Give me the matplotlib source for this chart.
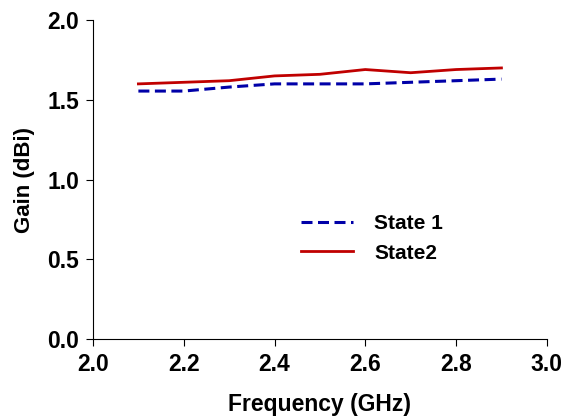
import matplotlib.pyplot as plt
from matplotlib.ticker import FormatStrFormatter

plt.rcParams['font.family'] = ['Liberation Sans', 'DejaVu Sans']
plt.rcParams['font.weight'] = 'bold'

freq = [2.1, 2.2, 2.3, 2.4, 2.5, 2.6, 2.7, 2.8, 2.9]
state1 = [1.555, 1.555, 1.58, 1.60, 1.60, 1.60, 1.61, 1.62, 1.63]
state2 = [1.60, 1.61, 1.62, 1.65, 1.66, 1.69, 1.67, 1.69, 1.70]

fig = plt.figure(figsize=(5.62, 4.19), dpi=100)
ax = fig.add_axes([0.1655, 0.191, 0.8075, 0.761])

ax.plot(freq, state1, color='#0000a8', lw=2.2, ls=(0, (3.6, 1.8)), label='State 1')
ax.plot(freq, state2, color='#c00000', lw=2.0, label='State2')

ax.set_xlim(2.0, 3.0)
ax.set_ylim(0.0, 2.0)
ax.set_xticks([2.0, 2.2, 2.4, 2.6, 2.8, 3.0])
ax.set_yticks([0.0, 0.5, 1.0, 1.5, 2.0])
ax.xaxis.set_major_formatter(FormatStrFormatter('%.1f'))
ax.yaxis.set_major_formatter(FormatStrFormatter('%.1f'))
ax.tick_params(labelsize=16.5, length=5, width=0.8, direction='out', pad=5)

for s in ['top', 'right']:
    ax.spines[s].set_visible(False)

ax.set_xlabel('Frequency (GHz)', fontsize=16.5, fontweight='bold', labelpad=12)
ax.set_ylabel('Gain (dBi)', fontsize=16, fontweight='bold', labelpad=9)

leg = ax.legend(loc='center left', bbox_to_anchor=(0.44, 0.315), frameon=False,
                fontsize=15, handlelength=2.5, handletextpad=1.0, labelspacing=0.5,
                borderaxespad=0)

fig.savefig('out.png', dpi=100)
